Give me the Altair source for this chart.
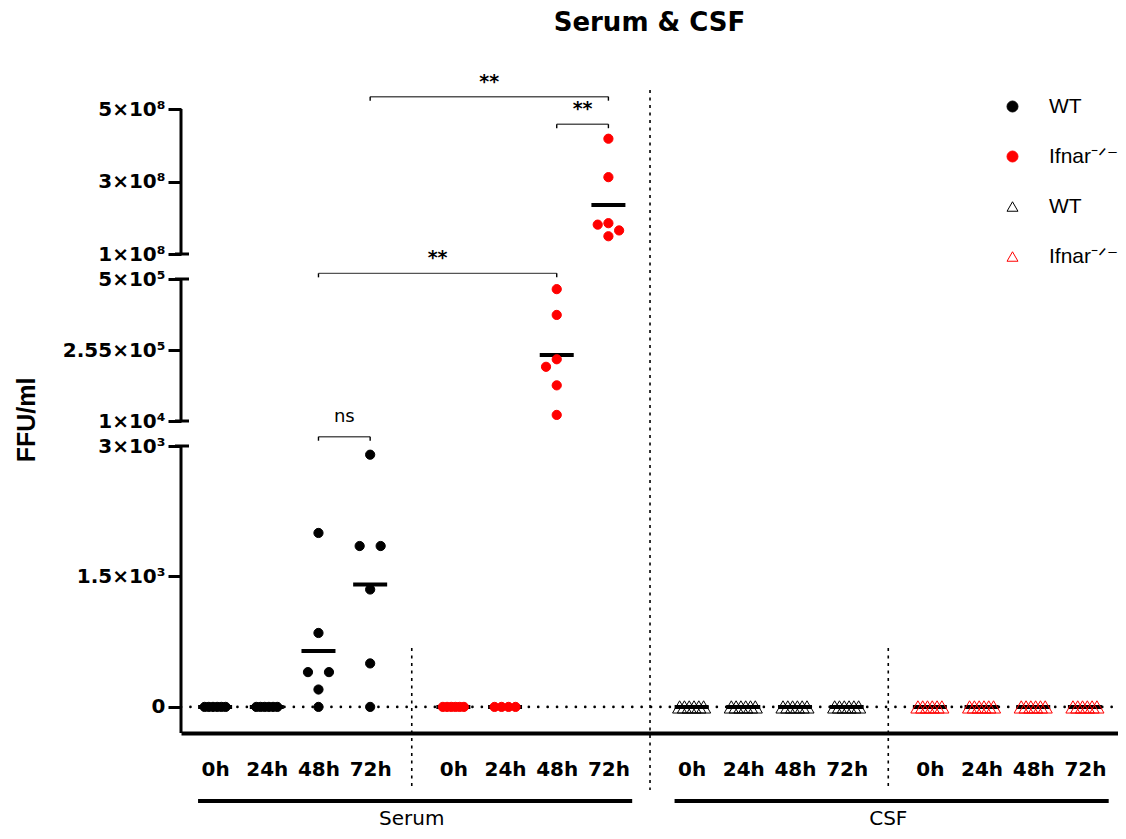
import altair as alt
import numpy as np
import pandas as pd
from collections import defaultdict

# ---------------- data ----------------
TIMES = ["0h", "24h", "48h", "72h"]
GROUPS = ["Serum WT", "Serum Ifnar", "CSF WT", "CSF Ifnar"]
LEGEND_LABELS = ["WT", "Ifnar\u207b\u141f\u207b", "WT", "Ifnar\u207b\u141f\u207b"]
SAMPLES = ["Serum", "CSF"]

SERUM_WT = [
    [0, 0, 0, 0, 0, 0],
    [0, 0, 0, 0, 0, 0],
    [2000, 850, 400, 400, 200, 0],
    [2900, 1850, 1850, 1350, 500, 0],
]
SERUM_IFNAR = [
    [0, 0, 0, 0, 0, 0],
    [0, 0, 0, 0],
    [465000, 376000, 223000, 197000, 133000, 31000],
    [418000000, 312000000, 185000000, 181000000, 165000000, 149000000],
]
CSF_WT = [
    [0, 0, 0, 0, 0, 0],
    [0, 0, 0, 0, 0, 0],
    [0, 0, 0, 0, 0, 0],
    [0, 0, 0, 0, 0, 0],
]
CSF_IFNAR = [
    [0, 0, 0, 0, 0, 0],
    [0, 0, 0, 0, 0, 0],
    [0, 0, 0, 0, 0, 0],
    [0, 0, 0, 0, 0, 0],
]

Y_TICKS = [0, 1500, 3000, 10000, 255000, 500000, 100000000, 300000000, 500000000]
Y_TICK_LABELS = ["0", "1.5\u00d710\u00b3", "3\u00d710\u00b3", "1\u00d710\u2074", "2.55\u00d710\u2075",
                 "5\u00d710\u2075", "1\u00d710\u2078", "3\u00d710\u2078", "5\u00d710\u2078"]
# broken axis: segment ends
Y_BREAKS = [-300, 3000, 10000, 500000, 100000000, 500000000]
Y_SEGMENTS = [(-300, 3000), (10000, 500000), (100000000, 500000000)]
Y_CAPS = [3000, 10000, 500000, 100000000]

# significance brackets: (group_from, time_from, group_to, time_to, level, label)
BRACKETS = [
    (0, 3, 1, 3, 534000000, "**"),
    (1, 2, 1, 3, 458000000, "**"),
    (0, 2, 1, 2, 23000000, "**"),
    (0, 2, 0, 3, 5600, "ns"),
]

# ---------------- layout ----------------
W, H = 937, 663
PAD = {"left": 173, "top": 62, "right": 0, "bottom": 98}
XDOM = [-0.66, 17.47]
GROUP_GAP = 4.61
Y_RANGE = [663, 376, 351, 209, 184, 39]
PX_PER_UNIT = W / (XDOM[1] - XDOM[0])
FONT = "DejaVu Sans"


def pos(g, t):
    return g * GROUP_GAP + t


def ypx(v):
    return float(np.interp(v, Y_BREAKS, Y_RANGE))


def spread(vals, tie_px, slot_px=10.7, min_dist=10.0):
    """GraphPad-like horizontal scatter of points in one column (pixels)."""
    offs = [0.0] * len(vals)
    by_val = defaultdict(list)
    for i, v in enumerate(vals):
        by_val[v].append(i)
    placed = []
    for v in sorted(by_val.keys(), reverse=True):
        idxs = by_val[v]
        y = ypx(v)
        n = len(idxs)
        if n > 1:
            for k, i in enumerate(idxs):
                o = (k / (n - 1) - 0.5) * tie_px
                offs[i] = o
                placed.append((o, y))
        else:
            chosen = 0.0
            for cand in [0.0, -slot_px, slot_px, -2 * slot_px, 2 * slot_px]:
                if all(np.hypot(cand - px, y - py) >= min_dist for px, py in placed):
                    chosen = cand
                    break
            offs[idxs[0]] = chosen
            placed.append((chosen, y))
    return offs


rows, means = [], []
for g, (name, series) in enumerate(zip(GROUPS, [SERUM_WT, SERUM_IFNAR, CSF_WT, CSF_IFNAR])):
    tri = name.startswith("CSF")
    for t, vals in enumerate(series):
        offs = spread(vals, 24 if tri else 21)
        for v, o in zip(vals, offs):
            rows.append({"series": name, "x": pos(g, t) + o / PX_PER_UNIT, "y": v, "tri": tri})
        means.append({"x": pos(g, t), "y": float(np.mean(vals))})
points = pd.DataFrame(rows)
mean_df = pd.DataFrame(means)

XS = alt.Scale(domain=XDOM, nice=False, zero=False)
YS = alt.Scale(type="linear", domain=Y_BREAKS, range=Y_RANGE, nice=False, zero=False)

x_vals = [pos(g, t) for g in range(4) for t in range(4)]
x_label_expr = (
    "[" + ",".join(f"'{s}'" for s in TIMES) + "]"
    + f"[round(datum.value - {GROUP_GAP}*floor((datum.value + 0.5)/{GROUP_GAP}))]"
)
y_label_expr = "".join(f"datum.value == {v} ? '{lab}' : " for v, lab in zip(Y_TICKS, Y_TICK_LABELS)) + "''"
legend_expr = "".join(f"datum.value == '{k}' ? '{lab}' : " for k, lab in zip(GROUPS, LEGEND_LABELS)) + "''"

XAX = alt.Axis(values=x_vals, labelExpr=x_label_expr, title=None, grid=False, ticks=False, tickSize=0,
               domain=True, domainColor="black", domainWidth=4, labelFont=FONT, labelFontWeight="bold",
               labelFontSize=20, labelColor="black", labelPadding=26, labelFlush=False, labelOverlap=False)
YAX = alt.Axis(values=Y_TICKS, labelExpr=y_label_expr, title="FFU/ml", titleFont="Liberation Sans",
               titleFontWeight="bold", titleFontSize=25, titleColor="black", titleX=-147, titleY=349.5,
               titleBaseline="alphabetic", titleAngle=270, grid=False, domain=False, ticks=True, tickSize=13,
               tickWidth=3, tickColor="black", labelFont=FONT, labelFontWeight="bold", labelFontSize=20,
               labelPadding=3, labelColor="black", labelOverlap=False, labelFlush=False)


def X(field="x"):
    return alt.X(f"{field}:Q", scale=XS, axis=XAX)


def Y(field="y"):
    return alt.Y(f"{field}:Q", scale=YS, axis=YAX)


# zero reference dotted line
zero = alt.Chart(pd.DataFrame({"y": [0]})).mark_rule(
    color="black", strokeWidth=2.6, strokeDash=[0.1, 9.3], strokeCap="round"
).encode(y=Y(), x=alt.value(0), x2=alt.value(W))

# vertical dotted separators
seps = pd.DataFrame({"x": [g * GROUP_GAP + 3 + (GROUP_GAP - 3) / 2 for g in range(3)], "kind": ["s", "t", "s"]})
sep_short = alt.Chart(seps).transform_filter("datum.kind == 's'").mark_rule(
    color="black", strokeWidth=1.6, strokeDash=[3, 4.5]
).encode(x=X(), y=alt.value(578), y2=alt.value(720))
sep_tall = alt.Chart(seps).transform_filter("datum.kind == 't'").mark_rule(
    color="black", strokeWidth=1.6, strokeDash=[3, 4.5]
).encode(x=X(), y=alt.value(20), y2=alt.value(720))

# mean bars
mean_bars = alt.Chart(mean_df).mark_tick(orient="horizontal", size=34, thickness=4, color="black",
                                         opacity=1).encode(x=X(), y=Y())

LEG = alt.Legend(title=None, orient="none", legendX=821, legendY=26, labelExpr=legend_expr,
                 labelFont="Liberation Sans", labelFontSize=21, labelColor="black", rowPadding=28,
                 labelOffset=26, padding=0, labelLimit=300, symbolStrokeWidth=1, symbolSize=120)

enc = dict(
    x=X(), y=Y(),
    fill=alt.Fill("series:N", scale=alt.Scale(domain=GROUPS, range=["black", "#ff0000", "transparent", "transparent"]), legend=LEG),
    stroke=alt.Stroke("series:N", scale=alt.Scale(domain=GROUPS, range=["black", "#ff0000", "black", "#ff0000"]), legend=LEG),
    shape=alt.Shape("series:N", scale=alt.Scale(domain=GROUPS, range=["circle", "circle", "triangle-up", "triangle-up"]), legend=LEG),
)
circles = alt.Chart(points).transform_filter("!datum.tri").mark_point(opacity=1, strokeWidth=1, size=85).encode(**enc)
triangles = alt.Chart(points).transform_filter("datum.tri").mark_point(opacity=1, strokeWidth=1, size=200).encode(**enc)

# broken y axis line segments and break caps
axis_seg = alt.Chart(pd.DataFrame(Y_SEGMENTS, columns=["y", "y2"])).mark_rule(color="black", strokeWidth=3).encode(
    y=Y(), y2="y2:Q", x=alt.value(0)
)
axis_caps = alt.Chart(pd.DataFrame({"y": Y_CAPS})).mark_rule(color="black", strokeWidth=3).encode(
    y=Y(), x=alt.value(-6), x2=alt.value(8)
)

# significance brackets
br = pd.DataFrame([
    {"x": pos(g1, t1), "x2": pos(g2, t2), "xm": (pos(g1, t1) + pos(g2, t2)) / 2, "y": lvl, "label": lab}
    for g1, t1, g2, t2, lvl, lab in BRACKETS
])
br_ends = pd.DataFrame([{"x": r[c], "y": r["y"]} for _, r in br.iterrows() for c in ("x", "x2")])
br_line = alt.Chart(br).mark_rule(color="#555555", strokeWidth=1.4).encode(x=X(), x2="x2:Q", y=Y())
br_tick = alt.Chart(br_ends).mark_tick(orient="vertical", size=4, thickness=1.4, yOffset=2, color="black",
                                       opacity=1).encode(x=X(), y=Y())
br_star = alt.Chart(br).transform_filter("datum.label == '**'").mark_text(
    font=FONT, fontWeight="bold", fontSize=19, baseline="alphabetic", dy=-9, color="black"
).encode(x=X("xm"), y=Y(), text="label:N")
br_ns = alt.Chart(br).transform_filter("datum.label != '**'").mark_text(
    font=FONT, fontSize=18, baseline="alphabetic", dy=-15, color="black"
).encode(x=X("xm"), y=Y(), text="label:N")

# sample group underline + labels
smp = pd.DataFrame([
    {"x": pos(2 * i, 0) - 0.33, "x2": pos(2 * i + 1, 3) + 0.46,
     "xm": (pos(2 * i, 0) + pos(2 * i + 1, 3)) / 2, "label": s}
    for i, s in enumerate(SAMPLES)
])
smp_line = alt.Chart(smp).mark_rule(color="black", strokeWidth=4).encode(x=X(), x2="x2:Q", y=alt.value(731))
smp_text = alt.Chart(smp).mark_text(font=FONT, fontSize=20, baseline="alphabetic", color="black").encode(
    x=X("xm"), y=alt.value(755), text="label:N"
)

chart = alt.layer(
    zero, sep_short, sep_tall, mean_bars, circles, triangles, axis_seg, axis_caps,
    br_line, br_tick, br_star, br_ns, smp_line, smp_text,
).properties(
    width=W, height=H, padding=PAD, autosize=alt.AutoSizeParams(type="none"),
    title=alt.TitleParams("Serum & CSF", font=FONT, fontSize=26, fontWeight="bold", anchor="middle",
                          frame="group", offset=13, baseline="alphabetic", color="black"),
).configure_view(stroke=None)

chart.save("out.html", embed_options={"renderer": "svg", "actions": False})
